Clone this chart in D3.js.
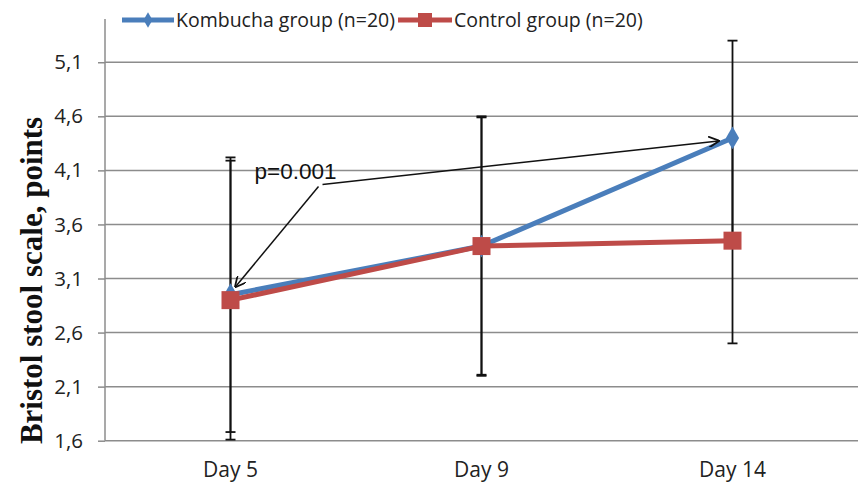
<!DOCTYPE html>
<html>
<head>
<meta charset="utf-8">
<script src="https://cdn.jsdelivr.net/npm/d3@7"></script>
<style>
  html, body { margin: 0; padding: 0; background: #fff; }
  svg { display: block; }
</style>
</head>
<body>
<svg id="chart" width="859" height="483"></svg>
<script>
// ---- data ----
const categories = ["Day 5", "Day 9", "Day 14"];
const kombuchaValues = [2.95, 3.4, 4.4];
const kombuchaErrors = [1.27, 1.19, 0.9];
const controlValues = [2.9, 3.4, 3.45];
const controlErrors = [1.29, 1.2, 0.95];
const yTicks = [1.6, 2.1, 2.6, 3.1, 3.6, 4.1, 4.6, 5.1];
const seriesNames = ["Kombucha group (n=20)", "Control group (n=20)"];
const yTitle = "Bristol stool scale, points";
const annotationText = "p=0.001";

(function () {
// ---- layout ----
const svg = d3.select("#chart");
const pLeft = 105, pRight = 858, pTop = 19, pBottom = 440.7;
const blue = "#4A7EBB", red = "#BE4B48", grid = "#8C8C8C";

const x = d3.scaleBand().domain(categories).range([pLeft, pRight]);
const cx = c => x(c) + x.bandwidth() / 2;
const y = d3.scaleLinear().domain([1.6, 5.5]).range([pBottom, pTop]);
const fmt = v => d3.format(".1f")(v).replace(".", ",");

// gridlines
svg.append("g").selectAll("line").data(yTicks).join("line")
  .attr("x1", pLeft).attr("x2", pRight)
  .attr("y1", d => y(d)).attr("y2", d => y(d))
  .attr("stroke", grid).attr("stroke-width", 1.5);

// y axis
const yAxis = svg.append("g").attr("transform", `translate(${pLeft},0)`)
  .call(d3.axisLeft(y).tickValues(yTicks).tickFormat(fmt).tickSize(7).tickPadding(15));
yAxis.select(".domain").remove();
yAxis.selectAll(".tick line").attr("stroke", grid).attr("stroke-width", 1.5);
yAxis.selectAll(".tick text").attr("fill", "#222")
  .style("font-family", "'Open Sans', sans-serif").style("font-size", "20.5px");
svg.append("line").attr("x1", pLeft).attr("x2", pLeft).attr("y1", pTop).attr("y2", pBottom)
  .attr("stroke", grid).attr("stroke-width", 1.5);

// x axis labels
const xAxis = svg.append("g").attr("transform", `translate(0,${pBottom})`)
  .call(d3.axisBottom(x).tickSize(0).tickPadding(21));
xAxis.select(".domain").remove();
xAxis.selectAll(".tick text").attr("fill", "#222")
  .style("font-family", "'Open Sans', sans-serif").style("font-size", "21px");

// y title
svg.append("text")
  .attr("transform", `translate(31,${(113 + 448) / 2}) rotate(-90)`)
  .attr("text-anchor", "middle").attr("dy", "0.35em")
  .style("font-family", "'Liberation Serif', 'Times New Roman', serif")
  .style("font-size", "31px").style("font-weight", "bold").attr("fill", "#111")
  .text(yTitle);

// error bars
function errorBars(vals, errs) {
  const g = svg.append("g").attr("stroke", "#111").attr("stroke-width", 1.8);
  vals.forEach((v, i) => {
    const xc = cx(categories[i]);
    g.append("line").attr("x1", xc).attr("x2", xc).attr("y1", y(v - errs[i])).attr("y2", y(v + errs[i]));
    [v - errs[i], v + errs[i]].forEach(e => {
      g.append("line").attr("x1", xc - 5).attr("x2", xc + 5).attr("y1", y(e)).attr("y2", y(e));
    });
  });
}
errorBars(kombuchaValues, kombuchaErrors);
errorBars(controlValues, controlErrors);

// lines
const line = d3.line().x((d, i) => cx(categories[i])).y(d => y(d));
svg.append("path").datum(kombuchaValues).attr("d", line)
  .attr("fill", "none").attr("stroke", blue).attr("stroke-width", 5).attr("stroke-linejoin", "round");
svg.append("g").selectAll("path").data(kombuchaValues).join("path")
  .attr("d", d3.symbol(d3.symbolDiamond, 150)())
  .attr("transform", (d, i) => `translate(${cx(categories[i])},${y(d)})`)
  .attr("fill", blue);

svg.append("path").datum(controlValues).attr("d", line)
  .attr("fill", "none").attr("stroke", red).attr("stroke-width", 5).attr("stroke-linejoin", "round");
svg.append("g").selectAll("rect").data(controlValues).join("rect")
  .attr("x", (d, i) => cx(categories[i]) - 9).attr("y", d => y(d) - 9)
  .attr("width", 18).attr("height", 18).attr("fill", red);

// annotation
const defs = svg.append("defs");
defs.append("marker").attr("id", "arr").attr("viewBox", "0 0 10 10")
  .attr("refX", 9).attr("refY", 5).attr("markerWidth", 11).attr("markerHeight", 11)
  .attr("markerUnits", "userSpaceOnUse").attr("orient", "auto")
  .append("path").attr("d", "M0,0 L10,5 L0,10").attr("fill", "none").attr("stroke", "#111").attr("stroke-width", 1.6);

const ax = cx(categories[0]) + 88, ay = y(3.97);
svg.append("line").attr("x1", ax).attr("y1", ay + 2)
  .attr("x2", cx(categories[0]) + 5).attr("y2", y(kombuchaValues[0]) - 8)
  .attr("stroke", "#111").attr("stroke-width", 1.5).attr("marker-end", "url(#arr)");
svg.append("line").attr("x1", ax + 4).attr("y1", ay)
  .attr("x2", cx(categories[2]) - 14).attr("y2", y(kombuchaValues[2]) + 3)
  .attr("stroke", "#111").attr("stroke-width", 1.5).attr("marker-end", "url(#arr)");
svg.append("text").attr("x", cx(categories[0]) + 24).attr("y", y(3.97) - 5)
  .style("font-family", "'Liberation Sans', Arial, sans-serif").style("font-size", "22.5px")
  .attr("fill", "#111").text(annotationText);

// legend
const legend = svg.append("g").style("font-family", "'Open Sans', sans-serif").style("font-size", "19.5px");
const legItems = [
  {name: seriesNames[0], color: blue, x0: 122, x1: 174, tx: 176, shape: "diamond"},
  {name: seriesNames[1], color: red, x0: 398, x1: 452, tx: 454, shape: "square"}
];
legItems.forEach(it => {
  const ly = 20;
  legend.append("line").attr("x1", it.x0).attr("x2", it.x1).attr("y1", ly).attr("y2", ly)
    .attr("stroke", it.color).attr("stroke-width", 5);
  const mx = (it.x0 + it.x1) / 2;
  if (it.shape === "diamond") {
    legend.append("path").attr("d", d3.symbol(d3.symbolDiamond, 70)())
      .attr("transform", `translate(${mx},${ly})`).attr("fill", it.color);
  } else {
    legend.append("rect").attr("x", mx - 7).attr("y", ly - 7).attr("width", 14).attr("height", 14).attr("fill", it.color);
  }
  legend.append("text").attr("x", it.tx).attr("y", ly).attr("dy", "0.35em").attr("fill", "#222").text(it.name);
});
})();
</script>
</body>
</html>
